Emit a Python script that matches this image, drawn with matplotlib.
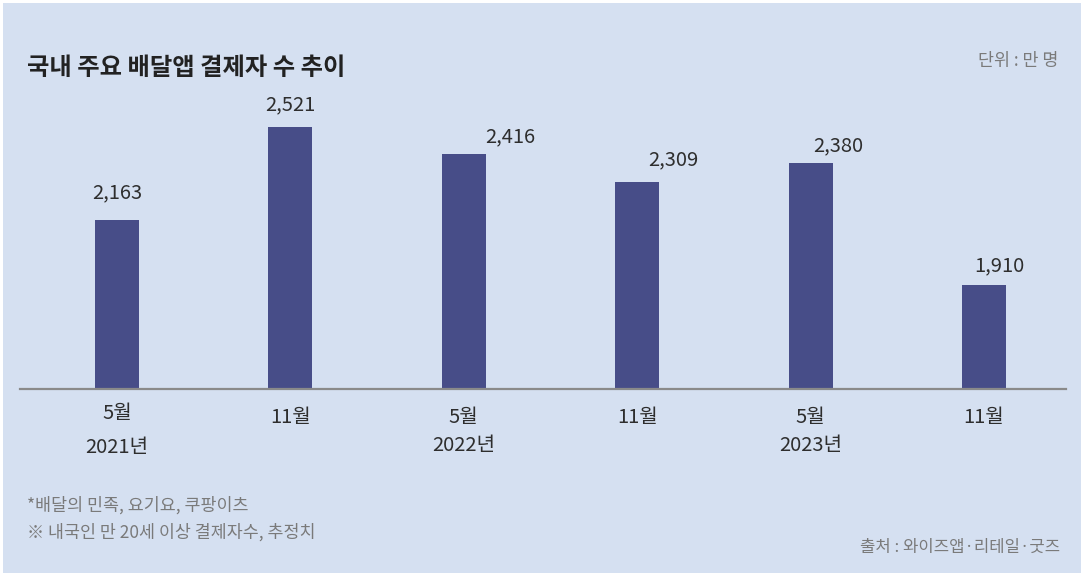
import matplotlib.pyplot as plt
from matplotlib.patches import Rectangle

plt.rcParams["font.family"] = ["Noto Sans CJK KR", "DejaVu Sans"]

# ── Data ───────────────────────────────────────────────────────────────────────
months = ["5월", "11월", "5월", "11월", "5월", "11월"]
years = ["2021년", "", "2022년", "", "2023년", ""]
users = [2163, 2521, 2416, 2309, 2380, 1910]
value_labels = ["2,163", "2,521", "2,416", "2,309", "2,380", "1,910"]

title = "국내 주요 배달앱 결제자 수 추이"
unit = "단위 : 만 명"
notes = ["*배달의 민족, 요기요, 쿠팡이츠", "※ 내국인 만 20세 이상 결제자수, 추정치"]
source = "출처 : 와이즈앱·리테일·굿즈"

# value label placement (x shift in data units, y gap in points), as in the original
label_dx = [0.0, 0.0, 0.27, 0.21, 0.16, 0.09]
label_dy = [11.5, 8.6, 5, 8, 5, 6.5]

BG = "#d5e0f1"
BAR = "#474d88"
DARK = "#2e2e2e"
GRAY = "#7a7a7a"

W, H = 1084, 576
fig = plt.figure(figsize=(W / 100, H / 100), dpi=100, facecolor="white")
fig.patches.append(Rectangle((3 / W, 3 / H), (W - 6) / W, (H - 6) / H,
                             transform=fig.transFigure, facecolor=BG,
                             edgecolor="none", zorder=-10))

# axes in pixel coords: left 20, right 1066, baseline at y=389, top at y=100
ax = fig.add_axes([20 / W, (H - 389) / H, 1046 / W, 289 / H])
ax.set_facecolor("none")

x = list(range(len(users)))
ax.bar(x, users, width=0.254, color=BAR, zorder=2)
ax.set_xlim(-0.559, 5.473)
ax.set_ylim(1508, 1508 + 289 / 0.2587)

for i, (v, lbl) in enumerate(zip(users, value_labels)):
    ax.annotate(lbl, (i + label_dx[i], v), xytext=(0, label_dy[i]), textcoords="offset points",
                ha="center", va="bottom", fontsize=14.5, color=DARK)

for s in ["top", "right", "left"]:
    ax.spines[s].set_visible(False)
ax.spines["bottom"].set_color("#8a8a8a")
ax.spines["bottom"].set_linewidth(1.6)
ax.set_yticks([])
ax.set_xticks([])

# category labels
month_y = [413, 418, 418, 418, 418, 418]
year_y = [447, 0, 445, 0, 445, 0]
for i in x:
    xf = ax.transData.transform((i, 1508))[0] / W
    fig.text(xf, 1 - month_y[i] / H, months[i], ha="center", va="center",
             fontsize=14.5, color=DARK)
    if years[i]:
        fig.text(xf, 1 - year_y[i] / H, years[i], ha="center", va="center",
                 fontsize=14.5, color=DARK)

fig.text(27 / W, 1 - 68 / H, title, ha="left", va="center", fontsize=17.5,
         fontweight="bold", color="#222222")
fig.text(1058 / W, 1 - 61 / H, unit, ha="right", va="center", fontsize=12.5, color=GRAY)
fig.text(27 / W, 1 - 505 / H, notes[0], ha="left", va="center", fontsize=12.5, color=GRAY)
fig.text(27 / W, 1 - 532 / H, notes[1], ha="left", va="center", fontsize=12.5, color=GRAY)
fig.text(1060 / W, 1 - 547 / H, source, ha="right", va="center", fontsize=12, color=GRAY)

fig.savefig("out.png", dpi=100, facecolor="white")
